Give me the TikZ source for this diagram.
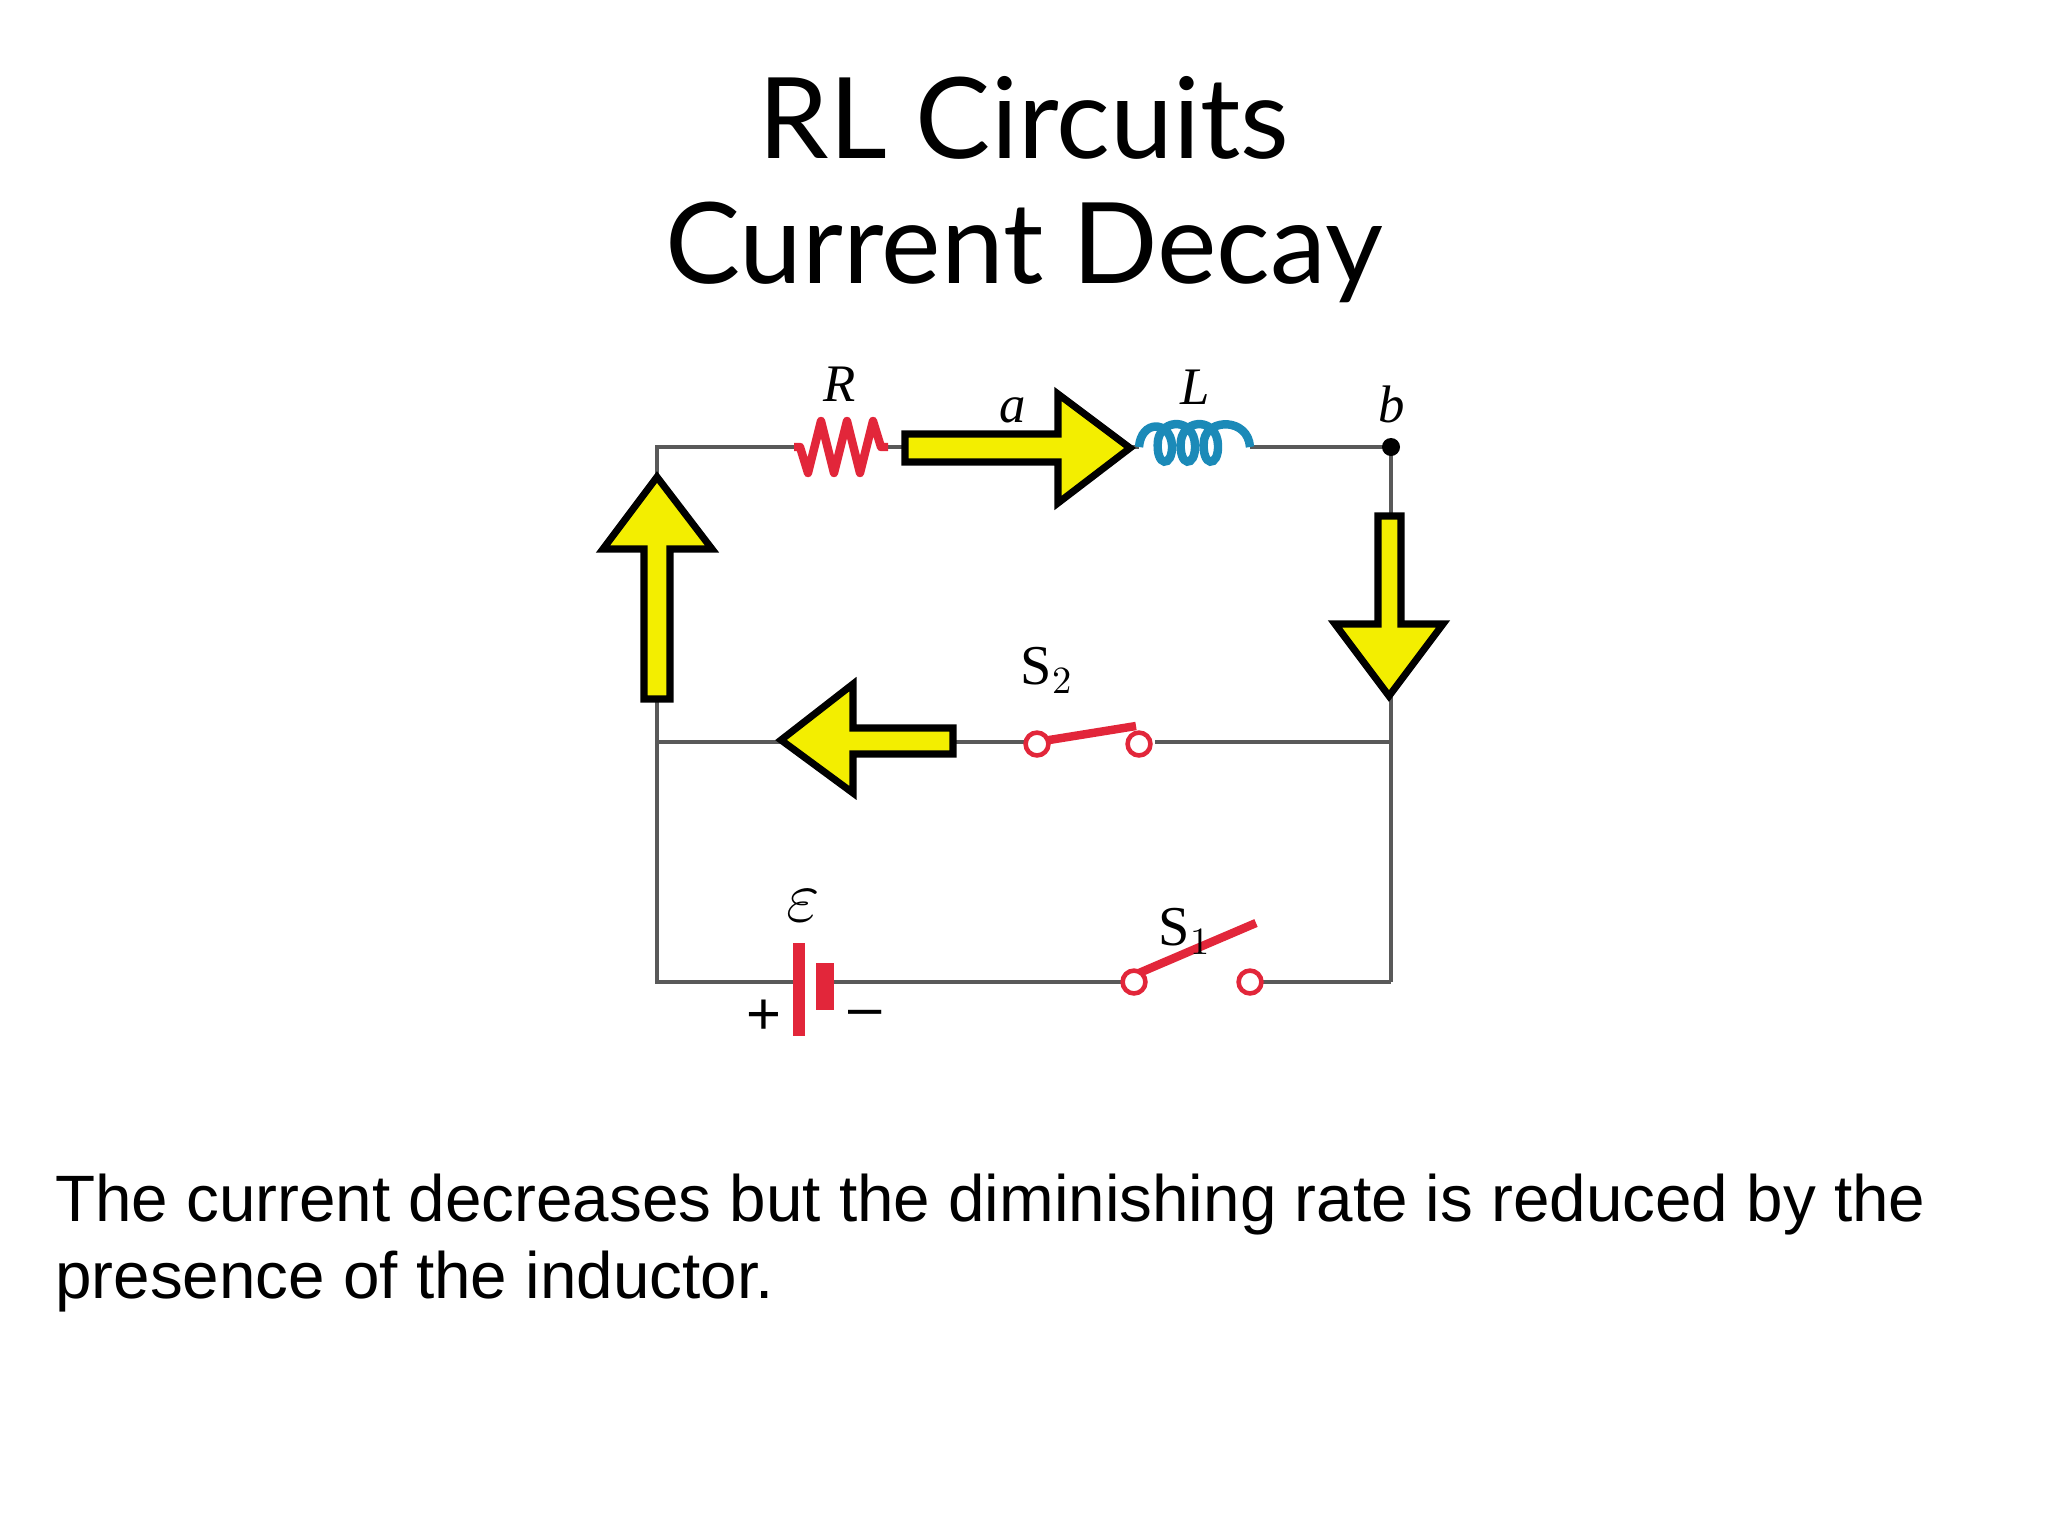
\documentclass[tikz,border=0pt]{standalone}
\usepackage{fontspec}
\setmainfont{Liberation Sans}
\newfontfamily\titlefont{Lato}
\newfontfamily\labelfont{Liberation Serif}

\begin{document}
\begin{tikzpicture}[x=0.01cm,y=-0.01cm,
	wire/.style={draw=gray!70!black, line width=1.4pt},
	flow/.style={fill=arrowyellow, draw=black, line width=2pt, line join=miter},
	pin/.style={circle, draw=circred, fill=white, line width=1.3pt, inner sep=0pt, minimum size=6.5pt},
	blade/.style={draw=circred, line width=2.4pt},
	lbl/.style={font=\labelfont\fontsize{15}{15}\selectfont\itshape}]
	\definecolor{circred}{HTML}{E2263A}
	\definecolor{circblue}{HTML}{1B8AB8}
	\definecolor{arrowyellow}{HTML}{F3EE00}
	\useasboundingbox (0,0) rectangle (2048,1536);
	% title
	\node (t1) at (1024,118) {\titlefont\fontsize{32}{32}\selectfont RL Circuits};
	\node (t2) at (1024,252) {\titlefont\fontsize{32}{32}\selectfont Current Decay};
	% corners
	\coordinate (tl) at (657,447);
	\coordinate (tr) at (1391,447);
	\coordinate (ml) at (657,742);
	\coordinate (mr) at (1391,742);
	\coordinate (bl) at (657,982);
	\coordinate (br) at (1391,982);
	\coordinate (r1) at (794,447);
	\coordinate (r2) at (888,447);
	\coordinate (l1) at (1139,447);
	\coordinate (l2) at (1250,447);
	\coordinate (e1) at (799,982);
	\coordinate (e2) at (825,982);
	% wires
	\draw[wire] (r1) -- (tl) -- (ml) -- (bl) -- (e1);
	\draw[wire] (r2) -- (l1);
	\draw[wire] (l2) -- (tr) -- (mr) -- (br);
	\draw[wire] (ml) -- (mr);
	\draw[wire] (e2) -- (br);
	% resistor
	\draw[circred, line width=2.4pt, line join=round] (r1) -- (800,447) -- (808,473) -- (821,421) -- (834,473) -- (847,421) -- (860,473) -- (873,421) -- (881,447) -- (r2);
	% inductor
	\draw[circblue, line width=2.4pt] (l1) .. controls (1141,420) and (1170,420) .. (1172,445)
		.. controls (1173,468) and (1155,468) .. (1158,440) .. controls (1162,418) and (1194,418) .. (1195,445)
		.. controls (1196,468) and (1178,468) .. (1181,440) .. controls (1185,418) and (1217,418) .. (1218,445)
		.. controls (1219,468) and (1201,468) .. (1204,440) .. controls (1208,418) and (1248,418) .. (l2);
	\fill (tr) circle (9);
	% battery
	\draw[circred, line width=3.2pt] (799,943) -- (799,1036);
	\draw[circred, line width=5pt] (825,963) -- (825,1010);
	\node (plus) at (764,1017) {\fontsize{17}{17}\selectfont +};
	\node (minus) at (865,1019) {\fontsize{17}{17}\selectfont --};
	\node (emf) at (803,906) {\fontsize{22}{22}\selectfont$\varepsilon$};
	% switches
	\draw[white, line width=4pt] (1020,742) -- (1155,742);
	\draw[white, line width=4pt] (1100,982) -- (1280,982);
	\draw[wire] (995,742) -- (1030,742);
	\draw[wire] (1095,982) -- (1127,982);
	\draw[wire] (1258,982) -- (1280,982);
	\draw[blade] (1043,741) -- (1136,726);
	\node[pin] (s2a) at (1037,744) {};
	\node[pin] (s2b) at (1139,744) {};
	\draw[blade] (1139,973) -- (1256,923);
	\node[pin] (s1a) at (1134,982) {};
	\node[pin] (s1b) at (1250,982) {};
	\node (s2) at (1047,670) {\labelfont\fontsize{16}{16}\selectfont S$_2$};
	\node (s1) at (1185,931) {\labelfont\fontsize{16}{16}\selectfont S$_1$};
	% labels
	\node[lbl] (rl) at (840,384) {R};
	\node[lbl] (al) at (1013,410) {a};
	\node[lbl] (ll) at (1195,387) {L};
	\node[lbl] (bl2) at (1392,404) {b};
	% current arrows
	\draw[flow] (905,434) -- (1058,434) -- (1058,394) -- (1130,448) -- (1058,503) -- (1058,462) -- (905,462) -- cycle;
	\draw[flow] (1378,516) -- (1401,516) -- (1401,624) -- (1443,624) -- (1389,696) -- (1335,624) -- (1378,624) -- cycle;
	\draw[flow] (953,728) -- (953,754) -- (853,754) -- (853,793) -- (781,740) -- (853,684) -- (853,728) -- cycle;
	\draw[flow] (644,699) -- (670,699) -- (670,549) -- (712,549) -- (657,477) -- (603,549) -- (644,549) -- cycle;
	% text
	\node[anchor=west, align=left, font=\fontsize{18.65}{22}\selectfont] (txt) at (43,1243)
		{The current decreases but the diminishing rate is reduced by the\\presence of the inductor.};
\end{tikzpicture}
\end{document}
